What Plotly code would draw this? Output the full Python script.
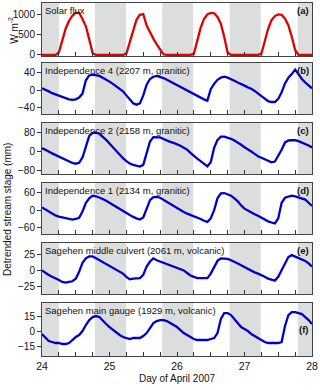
import numpy as np
import plotly.graph_objects as go
from plotly.subplots import make_subplots

# ─── Data (sampled every 0.05 day) ────────────────────────────────────────────

days = np.round(np.arange(24.0, 28.0001, 0.05), 2)

solar = [
    0, 0, 0, 0, 0, 60, 330, 640, 830, 960, 1030, 1030, 880, 700, 380, 40, 0, 0, 0, 0,
    0, 0, 0, 0, 0, 30, 320, 620, 860, 980, 1000, 720, 540, 400, 260, 120, 15, 0, 0, 0,
    0, 0, 0, 0, 0, 30, 350, 660, 880, 990, 1030, 1020, 930, 760, 440, 60, 0, 0, 0, 0,
    0, 0, 0, 0, 0, 30, 340, 640, 850, 950, 990, 980, 890, 720, 450, 120, 0, 0, 0, 0,
    0,
]
indep4 = [
    4, 1, -3, -7, -10, -13, -16, -19, -21, -22, -21, -17, -8, 22, 33, 35, 34, 32, 28, 24,
    19, 14, 9, 4, -3, -12, -22, -30, -33, -30, -12, 12, 25, 30, 32, 30, 27, 23, 19, 15,
    11, 7, 3, -1, -5, -9, -14, -18, -21, -24, 2, 14, 23, 28, 30, 28, 25, 21, 17, 14,
    10, 6, 3, -2, -8, -14, -20, -25, -27, -27, -20, -5, 15, 28, 36, 46, 36, 25, 17, 10,
    4,
]
indep2 = [
    14, 8, 0, -8, -15, -22, -29, -36, -42, -48, -51, -47, -25, 20, 65, 78, 79, 74, 62, 49,
    33, 17, 2, -12, -28, -40, -50, -56, -60, -63, -56, -7, 42, 60, 60, 59, 52, 45, 40, 36,
    31, 24, 16, 8, -6, -20, -30, -40, -50, -62, -45, 15, 48, 62, 62, 58, 53, 46, 38, 28,
    18, 10, 0, -10, -20, -26, -33, -40, -45, -42, -20, 7, 38, 46, 47, 47, 43, 38, 33, 25,
    17,
]
indep1 = [
    9, 2, -5, -12, -18, -22, -25, -28, -31, -32, -30, -26, -5, 25, 40, 49, 47, 43, 38, 32,
    25, 18, 11, 4, -4, -11, -17, -23, -28, -32, -25, 6, 34, 44, 45, 42, 35, 27, 21, 15,
    8, 1, -6, -12, -16, -20, -24, -30, -36, -40, -28, 0, 40, 57, 58, 54, 49, 40, 30, 16,
    5, -1, -9, -14, -19, -26, -33, -38, -42, -45, -28, 25, 42, 45, 49, 47, 44, 40, 36, 25,
    14,
]
sag_mid = [
    0, -4, -7, -10, -12, -15, -18, -19, -18, -17, -13, -2, 12, 19, 22, 22, 19, 16, 13, 10,
    7, 4, 1, -2, -5, -10, -14, -13, -13, -12, -7, 6, 14, 19, 16, 14, 12, 10, 8, 7,
    5, 3, 0, -4, -8, -10, -12, -12, -12, -12, -5, 6, 15, 19, 19, 18, 16, 14, 11, 8,
    5, 2, -1, -3, -5, -7, -10, -13, -15, -16, -10, 1, 12, 21, 24, 22, 20, 18, 15, 11,
    6,
]
sag_main = [
    -3, -7, -10, -11, -12, -12, -13, -13, -12, -9, -6, -4, 0, 6, 11, 14, 15, 14, 11, 7,
    4, 1, -1, -4, -6, -7, -8, -7, -7, -7, -5, -2, 3, 8, 10, 11, 11, 10, 8, 6,
    4, 1, -2, -4, -6, -8, -9, -9, -9, -9, -8, -7, -2, 12, 18, 18, 16, 12, 8, 4,
    2, 0, -3, -5, -7, -9, -11, -12, -12, -12, -12, -11, 5, 16, 19, 19, 18, 17, 14, 11,
    7,
]

night_start = [24.0, 24.785, 25.78, 26.78, 27.79]
night_end   = [24.25, 25.245, 26.24, 27.24, 28.0]

panels = [
    ("Solar flux",                            solar,    "#e00000", [-25, 1270], [0, 500, 1000], "(a)"),
    ("Independence 4 (2207 m, granitic)",     indep4,   "#0000cc", [-54, 61],   [-40, 0, 40],   "(b)"),
    ("Independence 2 (2158 m, granitic)",     indep2,   "#0000cc", [-94, 119],  [-80, 0, 80],   "(c)"),
    ("Independence 1 (2134 m, granitic)",     indep1,   "#0000cc", [-81, 92],   [-60, 0, 60],   "(d)"),
    ("Sagehen middle culvert (2061 m, volcanic)", sag_mid, "#0000cc", [-37, 43], [-25, 0, 25],  "(e)"),
    ("Sagehen main gauge (1929 m, volcanic)", sag_main, "#0000cc", [-25, 28],   [-15, 0, 15],   "(f)"),
]

domains = [
    [0.850, 1.0],
    [0.6856, 0.830],
    [0.5156, 0.660],
    [0.3456, 0.490],
    [0.1756, 0.320],
    [0.0, 0.150],
]

FONT = "Liberation Sans, Arial, sans-serif"
GRAY = "#dcdedd"

# ─── Figure ───────────────────────────────────────────────────────────────────

fig = make_subplots(rows=6, cols=1, shared_xaxes=True, vertical_spacing=0.02)

xtickvals = [24 + 0.25 * i for i in range(17)]
xticktext = [str(int(v)) if v == int(v) else "" for v in xtickvals]

for i, (title, vals, color, yr, yt, tag) in enumerate(panels):
    row = i + 1
    ax = "" if row == 1 else str(row)

    # night-time shading
    for x0, x1 in zip(night_start, night_end):
        fig.add_shape(
            type="rect", xref=f"x{ax}", yref=f"y{ax} domain",
            x0=x0, x1=x1, y0=0, y1=1,
            fillcolor=GRAY, line=dict(width=0), layer="below",
        )

    fig.add_trace(go.Scatter(
        x=days, y=vals, mode="lines",
        line=dict(color=color, width=2.3),
        showlegend=False,
    ), row=row, col=1)

    fig.add_annotation(
        text=title, xref=f"x{ax} domain", yref=f"y{ax} domain",
        x=0.005, y=1.0, xanchor="left", yanchor="top", showarrow=False,
        font=dict(size=9.5, color="#111"),
    )
    fig.add_annotation(
        text=f"<b>{tag}</b>", xref=f"x{ax} domain", yref=f"y{ax} domain",
        x=0.995, y=1.0 if row < 6 else 0.5, xanchor="right",
        yanchor="top" if row < 6 else "middle", showarrow=False,
        font=dict(size=9.5, color="#111"),
    )

    fig.update_yaxes(
        range=yr, tickvals=yt, domain=domains[i],
        ticks="outside", ticklen=4, tickcolor="#333",
        showline=True, linecolor="#444", linewidth=1, mirror=True,
        showgrid=False, zeroline=False,
        tickfont=dict(size=10, color="#111"),
        row=row, col=1,
    )

fig.update_xaxes(
    range=[24, 28], tickvals=xtickvals, ticktext=xticktext,
    ticks="inside", ticklen=4, tickcolor="#333",
    showline=True, linecolor="#444", linewidth=1, mirror=True,
    showgrid=False, zeroline=False,
    tickfont=dict(size=10.5, color="#111"),
)
fig.update_xaxes(
    title=dict(text="Day of April 2007", font=dict(size=10, color="#111"), standoff=4),
    row=6, col=1,
)

# y-axis labels
fig.add_annotation(
    text="W m<sup>-2</sup>", xref="paper", yref="paper",
    x=-0.105, y=0.923, textangle=-90, showarrow=False,
    xanchor="center", yanchor="middle",
    font=dict(size=10, color="#111"),
)
fig.add_annotation(
    text="Detrended stream stage (mm)", xref="paper", yref="paper",
    x=-0.128, y=0.415, textangle=-90, showarrow=False,
    xanchor="center", yanchor="middle",
    font=dict(size=10, color="#111"),
)

fig.update_layout(
    width=320, height=390,
    margin=dict(l=42, r=8, t=3, b=34),
    paper_bgcolor="white",
    plot_bgcolor="white",
    font=dict(family=FONT, color="#111"),
)

fig.write_html(
    "out.html",
    config={"displayModeBar": False},
    post_script="document.body.style.margin='0';",
)
